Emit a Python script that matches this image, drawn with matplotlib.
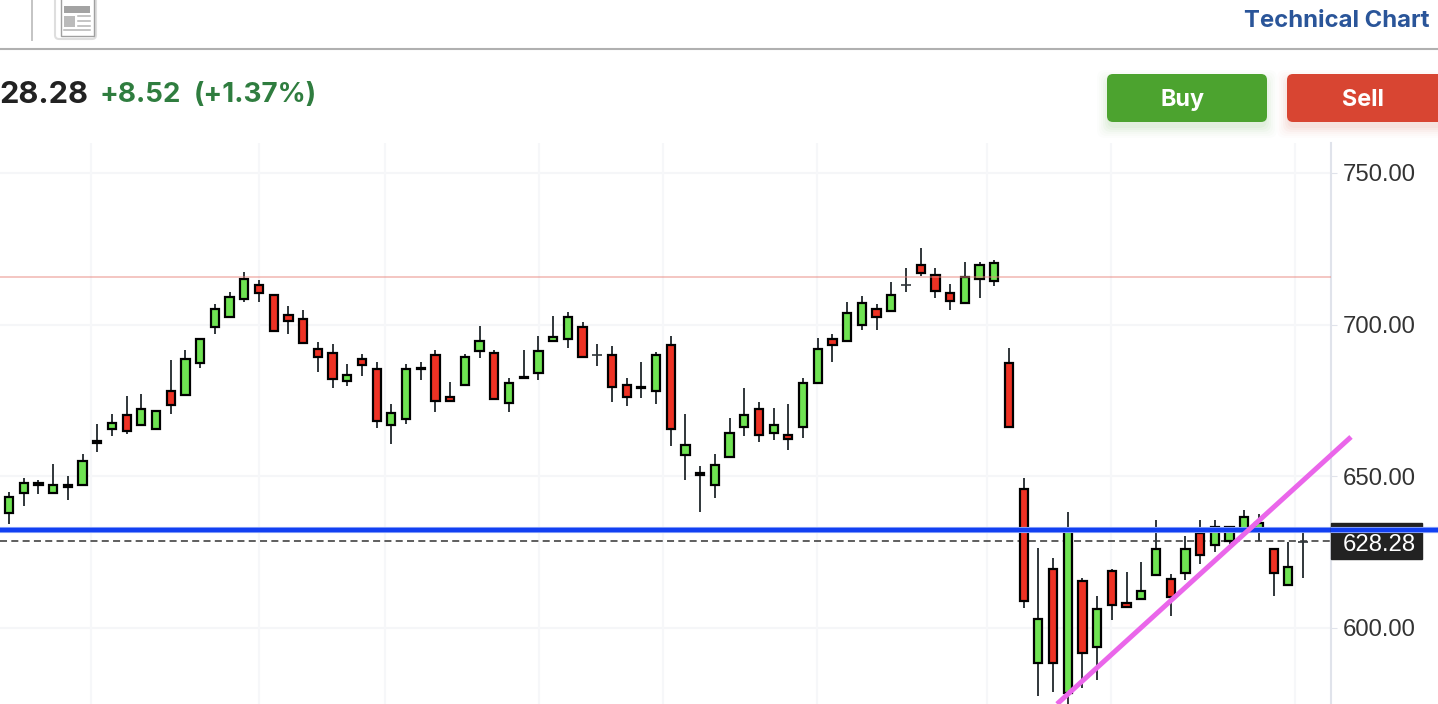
import matplotlib
matplotlib.use("Agg")
import matplotlib.pyplot as plt
from matplotlib.patches import FancyBboxPatch, Rectangle
from matplotlib.ticker import FuncFormatter

# ---- data (prices) ----
highs = [644.7,649.4,648.7,654.0,650.0,657.3,667.2,670.5,676.4,677.1,671.6,688.3,691.6,695.3,706.8,710.7,717.3,714.7,709.8,706.1,704.8,694.2,693.6,687.0,690.3,
         687.6,673.8,687.0,687.6,691.6,681.0,690.3,699.5,691.6,682.4,691.6,696.2,702.8,704.1,700.8,693.6,692.9,682.4,687.6,690.9,696.2,670.5,653.3,657.3,669.2,
         679.1,674.4,672.5,673.8,682.4,695.6,696.9,707.4,709.4,706.8,714.0,718.7,725.3,718.7,713.4,720.6,720.6,721.3,692.2,649.4,626.3,623.0,638.1,616.4,610.4,
         619.4,618.3,621.6,635.5,617.7,630.2,635.5,635.5,633.5,638.8,637.5,626.0,628.2,632.2]
body_top = [643.2,647.8,647.6,647.1,646.9,655.1,661.4,667.6,670.2,672.2,671.6,678.2,688.7,695.3,705.2,709.2,715.1,713.1,709.8,703.2,701.9,692.0,690.7,683.4,688.7,
            685.4,670.9,685.4,685.8,690.0,676.2,689.4,694.7,690.7,680.8,682.6,691.4,696.0,702.6,699.3,690.0,690.0,680.1,679.3,690.0,693.3,660.4,650.9,653.8,664.3,
            670.2,672.2,666.9,663.6,680.8,692.0,695.3,703.9,707.2,705.2,709.8,713.1,719.7,716.4,710.5,715.8,719.7,720.4,687.4,645.8,602.9,619.4,631.8,615.5,606.2,
            618.8,608.2,612.2,626.0,616.1,626.0,631.3,633.3,633.3,636.6,634.6,626.0,620.1,628.28]
body_bottom = [637.7,644.3,647.2,644.3,646.5,646.9,661.0,665.4,664.8,666.8,665.4,673.3,676.6,687.2,699.1,702.4,708.3,710.3,697.8,701.1,693.8,689.2,681.9,681.3,686.6,
               668.1,666.8,668.7,685.4,674.7,674.7,680.0,691.2,675.3,674.0,682.2,683.9,694.5,695.1,689.2,690.0,679.3,676.0,678.9,678.0,665.4,656.9,650.5,646.9,656.2,
               666.1,663.5,664.1,662.1,666.1,680.6,693.1,694.5,699.7,702.4,704.4,713.1,716.9,711.0,707.7,707.0,714.9,714.3,666.1,608.7,588.2,588.2,578.3,591.5,593.5,
               607.3,606.7,609.3,617.2,610.0,617.9,623.8,627.1,628.7,631.8,631.8,617.9,614.0,628.28]
lows = [634.2,640.1,644.0,644.3,642.1,646.9,657.9,663.2,663.9,666.8,665.4,670.5,676.6,685.6,696.9,702.4,707.4,707.4,697.8,696.9,693.8,684.3,679.1,679.7,683.0,
        665.9,660.6,667.2,681.7,671.1,674.7,680.0,688.9,675.3,671.1,682.2,681.7,694.5,692.2,689.2,686.3,674.4,673.1,675.8,673.8,659.9,648.7,638.1,642.8,656.2,
        663.2,661.2,661.9,658.6,662.6,680.6,687.6,694.5,698.2,698.2,704.4,710.7,716.0,708.8,704.8,707.0,708.8,712.7,666.1,606.4,577.4,578.7,574.1,580.1,582.7,
        602.5,606.7,609.3,617.2,603.8,615.7,621.0,624.9,627.6,631.8,628.7,610.4,614.0,616.4]
direction = "GGKGKGKGRGGRGGGGGRRRRRRGRRGGKRRGGRGKGGGRKRRKGRGKGGGRGRGGRGGRGKRRRGGGRRGRGRGRRGGRGRGGGGRGK"

y_ticks = [600, 650, 700, 750]
grid_positions = [5.58, 17.0, 25.57, 36.04, 44.47, 54.95, 66.5, 74.94, 87.45]
last_price = 628.28
dashed_level = 628.5
resistance_red = 715.7
resistance_blue = 632.2
trend_x = [71.27, 91.26]
trend_y = [574.77, 662.9]
change_text = "+8.52"
pct_text = "(+1.37%)"

W, H = 1438, 704
fig = plt.figure(figsize=(W/100, H/100), dpi=100, facecolor="white")
ax = fig.add_axes([0, 0, 1331/W, (704-143)/H])
ax.set_xlim(-0.612, 89.9)
ax.set_ylim(574.77, 759.9)
ax.set_facecolor("white")

for s in ("top", "left", "bottom"):
    ax.spines[s].set_visible(False)
ax.spines["right"].set_color("#e0e3eb")
ax.spines["right"].set_linewidth(1.5)
ax.yaxis.tick_right()
ax.set_yticks(y_ticks)
ax.yaxis.set_major_formatter(FuncFormatter(lambda v, _: f"{v:.2f}"))
ax.tick_params(axis="y", length=4.3, width=0.8, color="#e0e3eb", pad=4.3,
               labelsize=17.2, labelcolor="#333333")
for t in ax.get_yticklabels():
    t.set_family("Liberation Sans")
ax.set_xticks([])
ax.grid(False)
ax.hlines(y_ticks, -0.612, 89.9, color="#f5f6f8", lw=1.5, zorder=0)
ax.vlines(grid_positions, 574.77, 759.9, color="#f6f7f9", lw=1.5, zorder=0)

# dashed last-price line behind the candles
ax.plot([-0.612, 89.9], [dashed_level, dashed_level], color="#333333", lw=1.1,
        dashes=(4.6, 2.8), zorder=1)

GREEN, RED = "#6fe352", "#ee3224"
xs = list(range(len(highs)))
for i in xs:
    ax.vlines(i, lows[i], highs[i], color="#30363a", lw=1.4, zorder=2)
    top, bot, d = body_top[i], body_bottom[i], direction[i]
    if top == bot:
        ax.hlines(top, i - 0.33, i + 0.33, color="#30363a", lw=1.2, zorder=3)
    else:
        face = {"G": GREEN, "R": RED, "K": "#000000"}[d]
        ax.bar(i, top - bot, bottom=bot, width=0.56, color=face,
               edgecolor="#000000", linewidth=1.6, zorder=3)

ax.axhline(resistance_red, color="#e9867e", lw=1.1, alpha=0.6, zorder=4)
ax.plot([-0.612, 97.3], [resistance_blue]*2, color="#9db2fb", lw=4.4, zorder=7, clip_on=False,
        solid_capstyle="butt")
ax.plot([-0.612, 97.3], [resistance_blue]*2, color="#1240f2", lw=3.2, zorder=8, clip_on=False,
        solid_capstyle="butt")
ax.plot(trend_x, trend_y, color="#ea66ea", lw=3.6, zorder=9, clip_on=False,
        solid_capstyle="butt")

# overlay in pixel coordinates for page chrome
ov = fig.add_axes([0, 0, 1, 1], zorder=5)
ov.set_xlim(0, W)
ov.set_ylim(H, 0)
ov.axis("off")
ov.patch.set_alpha(0)

# last price tag
ov.add_patch(Rectangle((1331, 523), 90.5, 35.5, color="#222222", zorder=1))
ov.text(1343, 545, f"{last_price:.2f}", color="white", fontsize=17.2, family="Liberation Sans",
        va="center", ha="left", zorder=2)
# blue line resumes above the tag
ov.plot([1331, W], [530, 530], color="#9db2fb", lw=4.4, zorder=3, solid_capstyle="butt")
ov.plot([1331, W], [530, 530], color="#1240f2", lw=3.2, zorder=4, solid_capstyle="butt")

# header
ov.plot([0, W], [48.5, 48.5], color="#b0b0b0", lw=1.5)
ov.plot([32, 32], [0, 39.5], color="#c4c4c4", lw=1.4)
ov.add_patch(FancyBboxPatch((55, -6), 41, 45, boxstyle="round,pad=0,rounding_size=4",
                            fc="white", ec="#dedede", lw=1.5))
ov.add_patch(Rectangle((60.5, -2), 33, 38, fc="white", ec="#a0a0a0", lw=1.0))
ov.add_patch(Rectangle((64, 6), 25.5, 6.7, color="#a3a3a3", lw=0))
ov.add_patch(Rectangle((64, 15.5), 11.3, 11.2, color="#bbbbbb", lw=0))
for yy in (16, 20.7, 25.5):
    ov.plot([78, 89.5], [yy, yy], color="#b4b4b4", lw=1.1)
ov.plot([64, 89.5], [30, 30], color="#b4b4b4", lw=1.1)

ov.text(1429, 21, "Technical Chart", color="#2a5599", fontsize=17.2, fontweight="bold",
        family="Inter", ha="right", va="center")
ov.text(-1, 95, "28.28", color="#222222", fontsize=22.2, fontweight="bold", family="Inter",
        ha="left", va="center")
ov.text(100, 95, change_text, color="#2f7d3f", fontsize=20, fontweight="bold",
        family="Inter", ha="left", va="center")
ov.text(194, 95, pct_text, color="#2f7d3f", fontsize=20, fontweight="bold",
        family="Inter", ha="left", va="center")

# buttons with soft shadows
def button(x, w, color, shadow, label, cx):
    for grow, a in ((10, 0.012), (8, 0.016), (6, 0.02), (4, 0.03), (2, 0.035), (0, 0.04)):
        ov.add_patch(FancyBboxPatch((x - grow, 74 + 6 - grow), w + 2*grow, 48 + 2*grow,
                                    boxstyle="round,pad=0,rounding_size=8",
                                    fc=shadow, ec="none", alpha=a))
    ov.add_patch(FancyBboxPatch((x, 74), w, 48, boxstyle="round,pad=0,rounding_size=6",
                                fc=color, ec="none"))
    ov.text(cx, 100, label, color="white", fontsize=16.8, fontweight="bold", family="Inter",
            ha="center", va="center")

button(1107, 160, "#4ca32f", "#4ca32f", "Buy", 1182)
button(1287, 170, "#d84532", "#d84532", "Sell", 1363)

fig.savefig("out.png", dpi=100)
